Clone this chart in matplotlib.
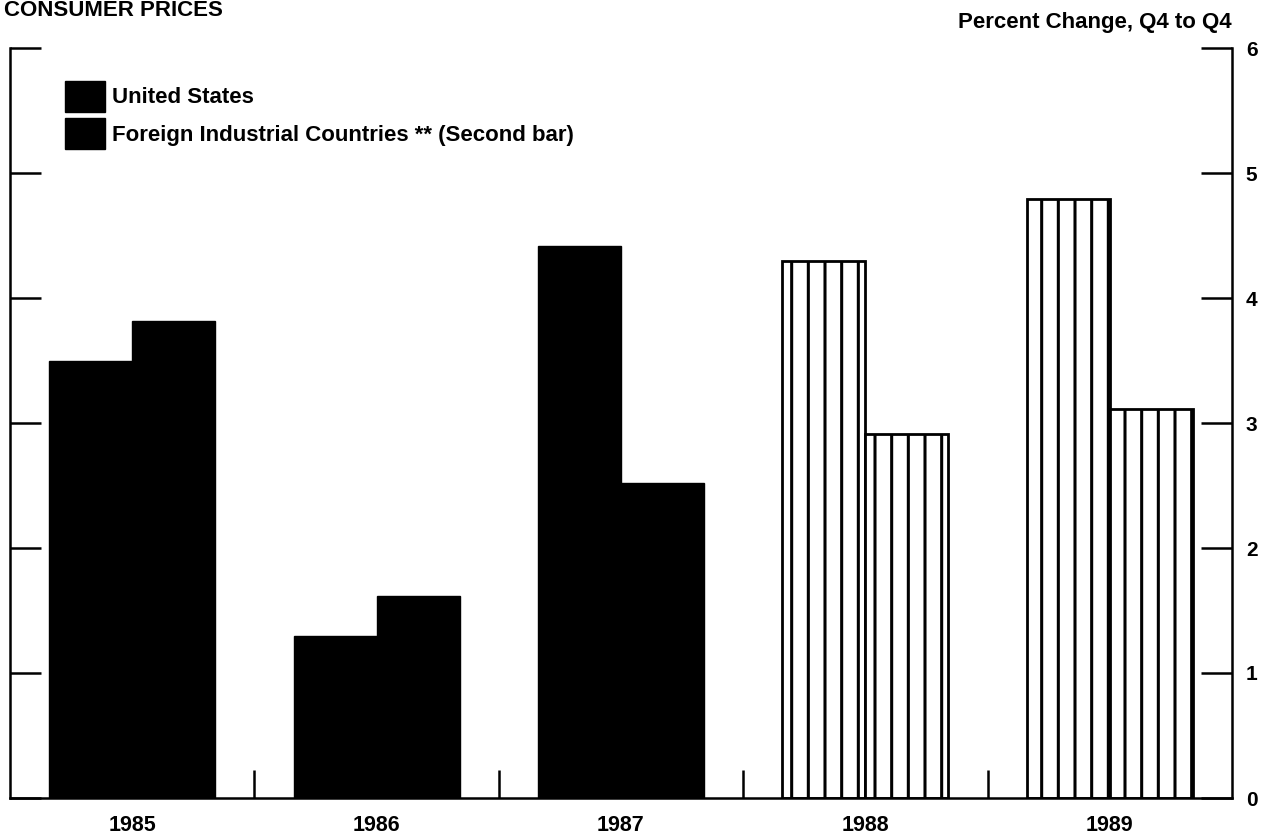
import numpy as np
import matplotlib.pyplot as plt
from matplotlib.patches import Patch

plt.rcParams['font.family'] = ['Liberation Sans', 'DejaVu Sans']
plt.rcParams['font.weight'] = 'bold'
plt.rcParams['hatch.linewidth'] = 2.2

years = ['1985', '1986', '1987', '1988', '1989']
us = [3.5, 1.3, 4.42, 4.3, 4.79]
foreign = [3.82, 1.62, 2.52, 2.91, 3.11]
projected = [False, False, False, True, True]

fig = plt.figure(figsize=(12.68, 8.35), dpi=100)
ax = fig.add_axes([10 / 1268, 37 / 835, 1222 / 1268, 750 / 835])

x = np.arange(len(years))
w = 0.34
for i in range(len(years)):
    if projected[i]:
        style = dict(facecolor='white', edgecolor='black', hatch='|', linewidth=2)
    else:
        style = dict(facecolor='black', edgecolor='black', linewidth=1)
    ax.bar(x[i] - w / 2, us[i], w, **style)
    ax.bar(x[i] + w / 2, foreign[i], w, **style)

ax.set_xlim(-0.5, len(years) - 0.5)
ax.set_ylim(0, 6)

for s in ['left', 'right', 'bottom']:
    ax.spines[s].set_linewidth(1.8)
ax.spines['top'].set_visible(False)

ax.set_yticks(range(0, 7))
ax.yaxis.set_ticks_position('both')
ax.tick_params(axis='y', direction='in', length=22, width=1.8,
               labelleft=False, labelright=True, labelsize=15, pad=10)

ax.set_xticks(x)
ax.set_xticklabels(years)
ax.tick_params(axis='x', which='major', length=0, labelsize=15.5, pad=12)
ax.set_xticks(x[:-1] + 0.5, minor=True)
ax.tick_params(axis='x', which='minor', direction='in', length=20, width=1.8)

handles = [Patch(facecolor='black', edgecolor='black'),
           Patch(facecolor='black', edgecolor='black')]
ax.legend(handles, ['United States', 'Foreign Industrial Countries ** (Second bar)'],
          loc='upper left', bbox_to_anchor=(0.038, 0.968), frameon=False,
          fontsize=16, handlelength=1.8, handleheight=1.75, handletextpad=0.3,
          labelspacing=0.3, borderaxespad=0)

fig.text(4 / 1268, 1 - 16 / 835, 'CONSUMER PRICES', fontsize=16,
         ha='left', va='baseline')
fig.text(1232 / 1268, 1 - 28 / 835, 'Percent Change, Q4 to Q4', fontsize=16,
         ha='right', va='baseline')

fig.savefig('out.png', dpi=100)
